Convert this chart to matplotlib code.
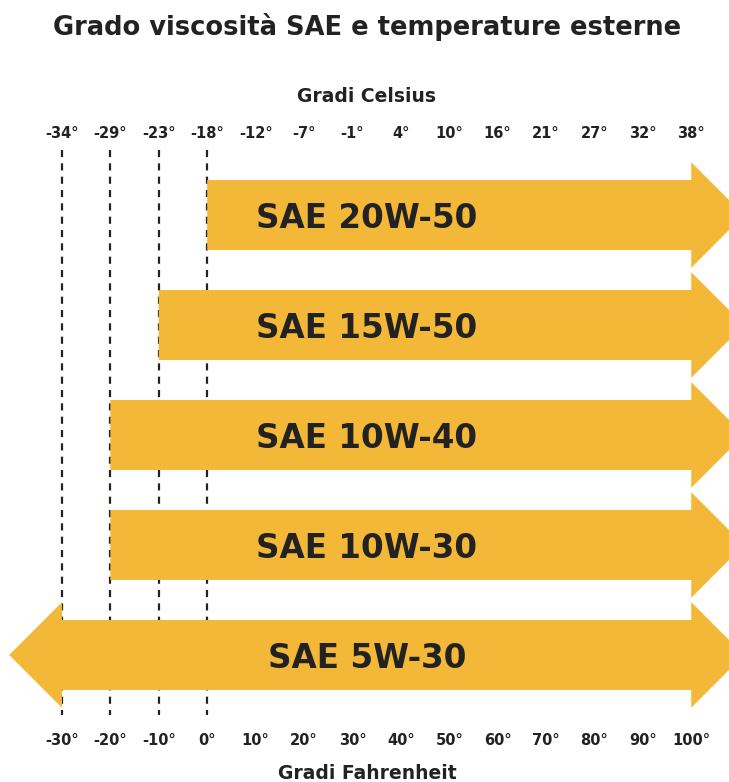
import matplotlib.pyplot as plt
from matplotlib.patches import Polygon

# dati (gradi Fahrenheit sull'asse x)
gradi_f = [-30, -20, -10, 0, 10, 20, 30, 40, 50, 60, 70, 80, 90, 100]
etichette_f = [f"{v}°" for v in gradi_f]
etichette_c = ["-34°", "-29°", "-23°", "-18°", "-12°", "-7°", "-1°",
               "4°", "10°", "16°", "21°", "27°", "32°", "38°"]
oli = ["SAE 20W-50", "SAE 15W-50", "SAE 10W-40", "SAE 10W-30", "SAE 5W-30"]
inizio = [0, -10, -20, -20, -30]
fine = [100, 100, 100, 100, 100]
freccia_sx = [False, False, False, False, True]
linee_tratt = [-30, -20, -10, 0]

arancio = "#F4B838"
scuro = "#222222"

fig = plt.figure(figsize=(7.29, 7.82), dpi=100)
ax = fig.add_axes([0, 0, 1, 1])
ax.set_xlim(-42.8, 107.8)
ax.set_ylim(5.155, -1.955)   # righe, asse invertito
ax.axis("off")

h_corpo = 0.318
h_testa = 0.48
l_testa = 10.9

# linee tratteggiate
for x in linee_tratt:
    ax.plot([x, x], [-0.59, 4.55], color=scuro, lw=1.6,
            linestyle=(0, (3.2, 2.8)), zorder=1)

# frecce
for i, (nome, s, e, sx) in enumerate(zip(oli, inizio, fine, freccia_sx)):
    pts = [(e, i - h_corpo), (e, i - h_testa), (e + l_testa, i),
           (e, i + h_testa), (e, i + h_corpo)]
    if sx:
        pts += [(s, i + h_corpo), (s, i + h_testa), (s - l_testa, i),
                (s, i - h_testa), (s, i - h_corpo)]
    else:
        pts += [(s, i + h_corpo), (s, i - h_corpo)]
    ax.add_patch(Polygon(pts, closed=True, facecolor=arancio,
                         edgecolor="none", zorder=2))
    ax.text(33, i + 0.03, nome, ha="center", va="center", fontsize=23.5,
            fontweight="bold", color=scuro, zorder=3)

# etichette gradi
for x, c, f in zip(gradi_f, etichette_c, etichette_f):
    ax.text(x, -0.74, c, ha="center", va="center", fontsize=10.5,
            fontweight="bold", color=scuro)
    ax.text(x, 4.775, f, ha="center", va="center", fontsize=10.5,
            fontweight="bold", color=scuro)

ax.text(33, -1.08, "Gradi Celsius", ha="center", va="center",
        fontsize=13.5, fontweight="bold", color=scuro)
ax.text(33, 5.08, "Gradi Fahrenheit", ha="center", va="center",
        fontsize=13.5, fontweight="bold", color=scuro)
ax.text(33, -1.71, "Grado viscosità SAE e temperature esterne",
        ha="center", va="center", fontsize=18.5, fontweight="bold",
        color=scuro)

fig.savefig("out.png", dpi=100)
